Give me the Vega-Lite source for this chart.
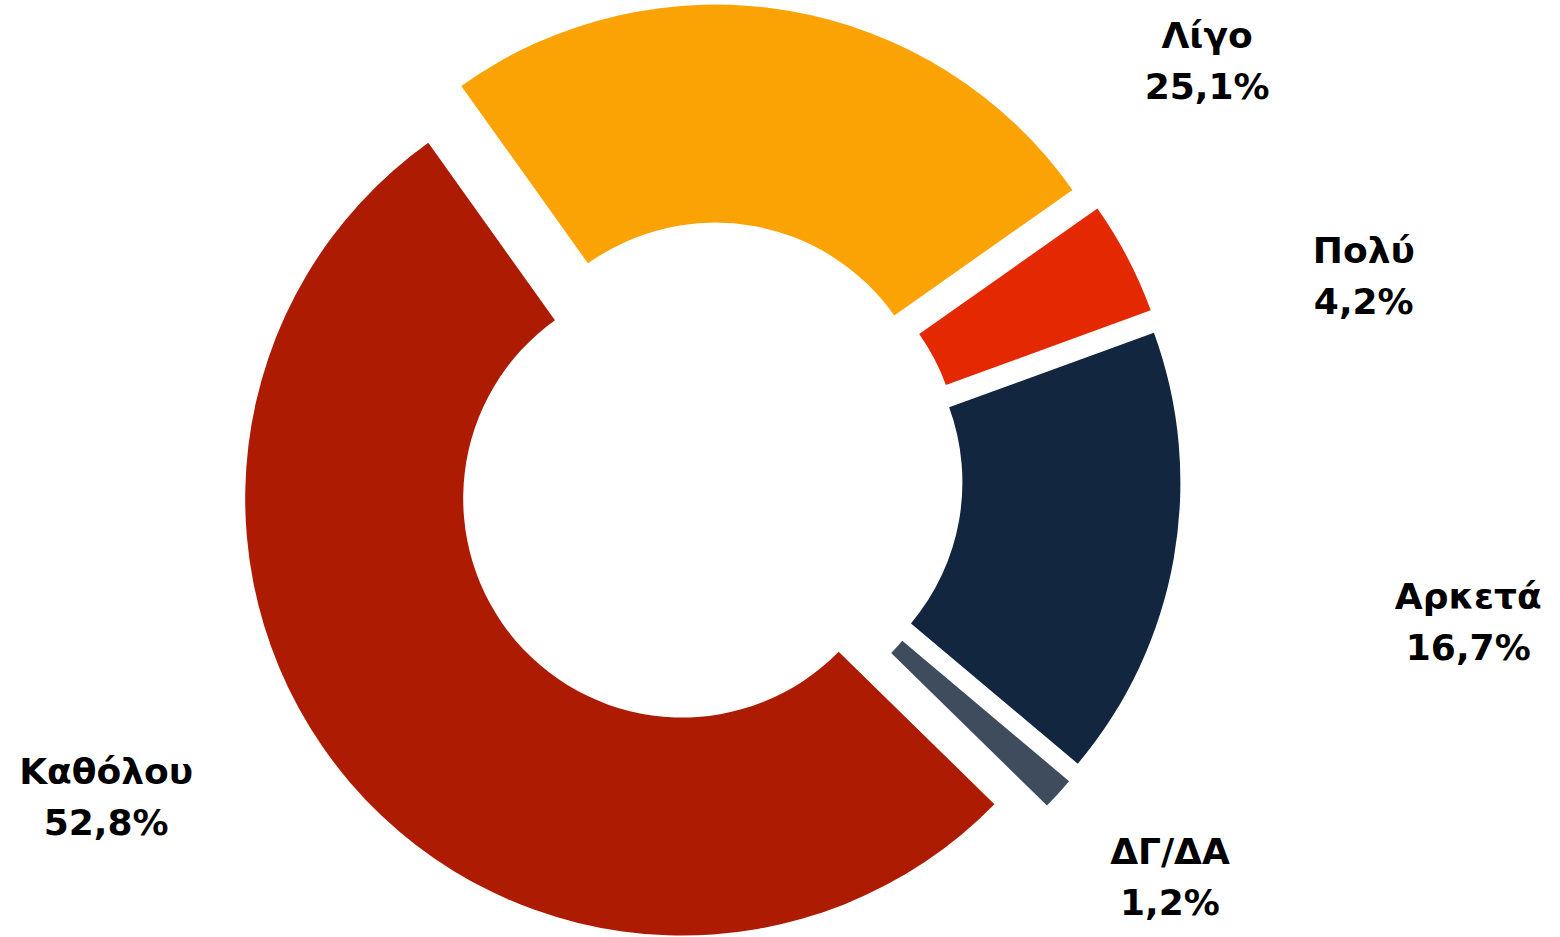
{
  "$schema": "https://vega.github.io/schema/vega-lite/v6.json",
  "width": 1418,
  "height": 952,
  "padding": 0,
  "background": "white",
  "config": {"view": {"stroke": null}},
  "data": {"values": [
    {"cat": "Λίγο", "pct": 25.1, "order": 1},
    {"cat": "Πολύ", "pct": 4.2, "order": 2},
    {"cat": "Αρκετά", "pct": 16.7, "order": 3},
    {"cat": "ΔΓ/ΔΑ", "pct": 1.2, "order": 4},
    {"cat": "Καθόλου", "pct": 52.8, "order": 5}
  ]},
  "transform": [
    {"stack": "pct", "groupby": [], "sort": [{"field": "order", "order": "ascending"}], "as": ["t0", "t1"]},
    {"calculate": "(datum.t0 + datum.t1) / 2", "as": "mid"},
    {"calculate": "datum.cat + '\\n' + replace(format(datum.pct, '.1f'), '.', ',') + '%'", "as": "lbl"}
  ],
  "layer": [
    {
      "transform": [{"filter": "datum.cat === 'Λίγο'"}],
      "mark": {"type": "arc", "outerRadius": 437, "innerRadius": 219, "xOffset": 6.2, "yOffset": -34.4},
      "encoding": {
        "theta": {"field": "t0", "type": "quantitative", "scale": {"domain": [0, 100], "range": [-0.62, 5.6632]}},
        "theta2": {"field": "t1"},
        "color": {"field": "cat", "type": "nominal", "legend": null, "scale": {"domain": ["Λίγο", "Πολύ", "Αρκετά", "ΔΓ/ΔΑ", "Καθόλου"], "range": ["#FBA304", "#E42802", "#12263F", "#3E4C5E", "#AD1C02"]}}
      }
    },
    {
      "transform": [{"filter": "datum.cat === 'Πολύ'"}],
      "mark": {"type": "arc", "outerRadius": 437, "innerRadius": 219, "xOffset": 31.2, "yOffset": -15.9},
      "encoding": {
        "theta": {"field": "t0", "type": "quantitative", "scale": {"domain": [0, 100], "range": [-0.62, 5.6632]}},
        "theta2": {"field": "t1"},
        "color": {"field": "cat", "type": "nominal", "legend": null}
      }
    },
    {
      "transform": [{"filter": "datum.cat === 'Αρκετά'"}],
      "mark": {"type": "arc", "outerRadius": 437, "innerRadius": 219, "xOffset": 34.4, "yOffset": 6.4},
      "encoding": {
        "theta": {"field": "t0", "type": "quantitative", "scale": {"domain": [0, 100], "range": [-0.62, 5.6632]}},
        "theta2": {"field": "t1"},
        "color": {"field": "cat", "type": "nominal", "legend": null}
      }
    },
    {
      "transform": [{"filter": "datum.cat === 'ΔΓ/ΔΑ'"}],
      "mark": {"type": "arc", "outerRadius": 437, "innerRadius": 219, "xOffset": 25.7, "yOffset": 23.8},
      "encoding": {
        "theta": {"field": "t0", "type": "quantitative", "scale": {"domain": [0, 100], "range": [-0.62, 5.6632]}},
        "theta2": {"field": "t1"},
        "color": {"field": "cat", "type": "nominal", "legend": null}
      }
    },
    {
      "transform": [{"filter": "datum.cat === 'Καθόλου'"}],
      "mark": {"type": "arc", "outerRadius": 437, "innerRadius": 219, "xOffset": -26.8, "yOffset": 22.5},
      "encoding": {
        "theta": {"field": "t0", "type": "quantitative", "scale": {"domain": [0, 100], "range": [-0.62, 5.6632]}},
        "theta2": {"field": "t1"},
        "color": {"field": "cat", "type": "nominal", "legend": null}
      }
    },
    {
      "transform": [{"filter": "datum.cat === 'Λίγο'"}],
      "mark": {"type": "text", "radius": 664, "thetaOffset": 0.6797, "font": "DejaVu Sans", "fontSize": 36, "fontWeight": "bold", "lineBreak": "\n", "lineHeight": 51, "align": "center", "baseline": "middle", "color": "#000000"},
      "encoding": {"theta": {"field": "mid", "type": "quantitative"}, "text": {"field": "lbl"}}
    },
    {
      "transform": [{"filter": "datum.cat === 'Πολύ'"}],
      "mark": {"type": "text", "radius": 692, "thetaOffset": 0.1522, "font": "DejaVu Sans", "fontSize": 36, "fontWeight": "bold", "lineBreak": "\n", "lineHeight": 51, "align": "center", "baseline": "middle", "color": "#000000"},
      "encoding": {"theta": {"field": "mid", "type": "quantitative"}, "text": {"field": "lbl"}}
    },
    {
      "transform": [{"filter": "datum.cat === 'Αρκετά'"}],
      "mark": {"type": "text", "radius": 769, "thetaOffset": -0.0155, "font": "DejaVu Sans", "fontSize": 36, "fontWeight": "bold", "lineBreak": "\n", "lineHeight": 51, "align": "center", "baseline": "middle", "color": "#000000"},
      "encoding": {"theta": {"field": "mid", "type": "quantitative"}, "text": {"field": "lbl"}}
    },
    {
      "transform": [{"filter": "datum.cat === 'ΔΓ/ΔΑ'"}],
      "mark": {"type": "text", "radius": 595.5, "thetaOffset": -0.0517, "font": "DejaVu Sans", "fontSize": 36, "fontWeight": "bold", "lineBreak": "\n", "lineHeight": 51, "align": "center", "baseline": "middle", "color": "#000000"},
      "encoding": {"theta": {"field": "mid", "type": "quantitative"}, "text": {"field": "lbl"}}
    },
    {
      "transform": [{"filter": "datum.cat === 'Καθόλου'"}],
      "mark": {"type": "text", "radius": 672, "thetaOffset": 0.2503, "font": "DejaVu Sans", "fontSize": 36, "fontWeight": "bold", "lineBreak": "\n", "lineHeight": 51, "align": "center", "baseline": "middle", "color": "#000000"},
      "encoding": {"theta": {"field": "mid", "type": "quantitative"}, "text": {"field": "lbl"}}
    }
  ]
}
